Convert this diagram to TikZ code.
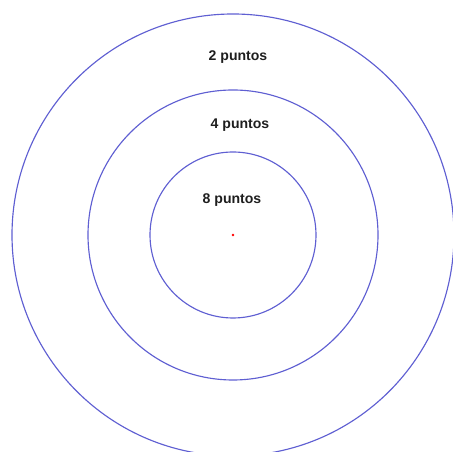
\documentclass[tikz,border=0pt]{standalone}
\usepackage{fontspec}
\setmainfont{Liberation Sans}
\usepackage{xcolor}
\usepackage{tikz}
\usetikzlibrary{positioning}

\definecolor{ringblue}{RGB}{95,95,210}
\definecolor{scoretext}{RGB}{30,30,30}

\begin{document}
\begin{tikzpicture}[x=0.02cm, y=0.02cm,
    ring/.style={draw=ringblue, line width=0.65pt},
    score/.style={text=scoretext, font=\bfseries\fontsize{8}{10}\selectfont, inner sep=0pt}]
    \useasboundingbox (0,0) rectangle (453,452);
    % Centro de la diana
    \coordinate (O) at (233,217);
    \fill[red] (O) circle (1.4);
    % Circulos
    \draw[ring] (O) circle (221);
    \draw[ring] (O) circle (145);
    \draw[ring] (O) circle (83);
    % Puntuaciones
    \node[score] (dos) at (238,395) {2 puntos};
    \node[score] (cuatro) at (240,327) {4 puntos};
    \node[score] (ocho) at (232,252) {8 puntos};
\end{tikzpicture}
\end{document}
